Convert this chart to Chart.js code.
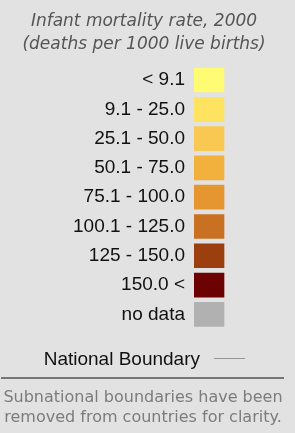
<!DOCTYPE html>
<html>
<head>
<meta charset="utf-8">
<script src="https://cdn.jsdelivr.net/npm/chart.js@4/dist/chart.umd.min.js"></script>
<style>
  html, body { margin: 0; padding: 0; background: #e2e2e2; }
  #wrap { width: 295px; height: 433px; position: relative; }
</style>
</head>
<body>
<div id="wrap"><canvas id="legendChart" width="295" height="433"></canvas></div>
<script>
// legend classes (infant mortality per 1000 live births)
const classLabels = ['< 9.1', '9.1 - 25.0', '25.1 - 50.0', '50.1 - 75.0', '75.1 - 100.0',
  '100.1 - 125.0', '125 - 150.0', '150.0 <', 'no data'];
const swatchValues = [1, 1, 1, 1, 1, 1, 1, 1, 1];
const swatchColors = ['#fffb72', '#fde35f', '#f8c852', '#f2b03d', '#e59631',
  '#c87122', '#9b3f0e', '#6c0101', '#b1b1b1'];
const titleLines = ['Infant mortality rate, 2000', '(deaths per 1000 live births)'];
const boundaryLabel = 'National Boundary';
const noteLines = ['Subnational boundaries have been', 'removed from countries for clarity.'];

const footerPlugin = {
  id: 'footerPlugin',
  afterDraw(chart) {
    const ctx = chart.ctx;
    ctx.save();
    // national boundary entry
    ctx.font = '19px "Liberation Sans", Arial, sans-serif';
    ctx.fillStyle = '#111';
    ctx.textAlign = 'right';
    ctx.textBaseline = 'middle';
    ctx.fillText(boundaryLabel, 200, 360);
    ctx.strokeStyle = '#959595';
    ctx.lineWidth = 1;
    ctx.beginPath();
    ctx.moveTo(214, 358.5);
    ctx.lineTo(245, 358.5);
    ctx.stroke();
    // separator
    ctx.strokeStyle = '#767676';
    ctx.lineWidth = 2;
    ctx.beginPath();
    ctx.moveTo(1, 378);
    ctx.lineTo(284, 378);
    ctx.stroke();
    // note
    ctx.font = '16px "DejaVu Sans", Verdana, sans-serif';
    ctx.fillStyle = '#7c7c7c';
    ctx.textAlign = 'center';
    noteLines.forEach((t, i) => ctx.fillText(t, 143, 398 + i * 20));
    ctx.restore();
  }
};

window.onload = function () {
  const ctx = document.getElementById('legendChart').getContext('2d');
  new Chart(ctx, {
    type: 'bar',
    data: {
      labels: classLabels,
      datasets: [{
        data: swatchValues,
        backgroundColor: swatchColors,
        borderWidth: 0,
        barThickness: 24
      }]
    },
    options: {
      indexAxis: 'y',
      responsive: false,
      animation: false,
      layout: { padding: { left: 0, right: 7, top: 0, bottom: 104 } },
      scales: {
        // swatches are 30px wide inside a 94px plot area
        x: { display: false, min: 0, max: 94 / 30 },
        y: {
          grid: { display: false, drawTicks: false },
          border: { display: false },
          ticks: {
            color: '#111',
            padding: 9,
            font: { family: '"Liberation Sans", Arial, sans-serif', size: 19 }
          },
          afterFit(scale) { scale.width = 194; }
        }
      },
      plugins: {
        legend: { display: false },
        tooltip: { enabled: false },
        title: {
          display: true,
          text: titleLines,
          color: '#555',
          font: { family: '"DejaVu Sans", Verdana, sans-serif', size: 17, style: 'italic', weight: 'normal', lineHeight: 1.35 },
          padding: { top: 10.5, bottom: 9 }
        }
      }
    },
    plugins: [footerPlugin]
  });
};
</script>
</body>
</html>
